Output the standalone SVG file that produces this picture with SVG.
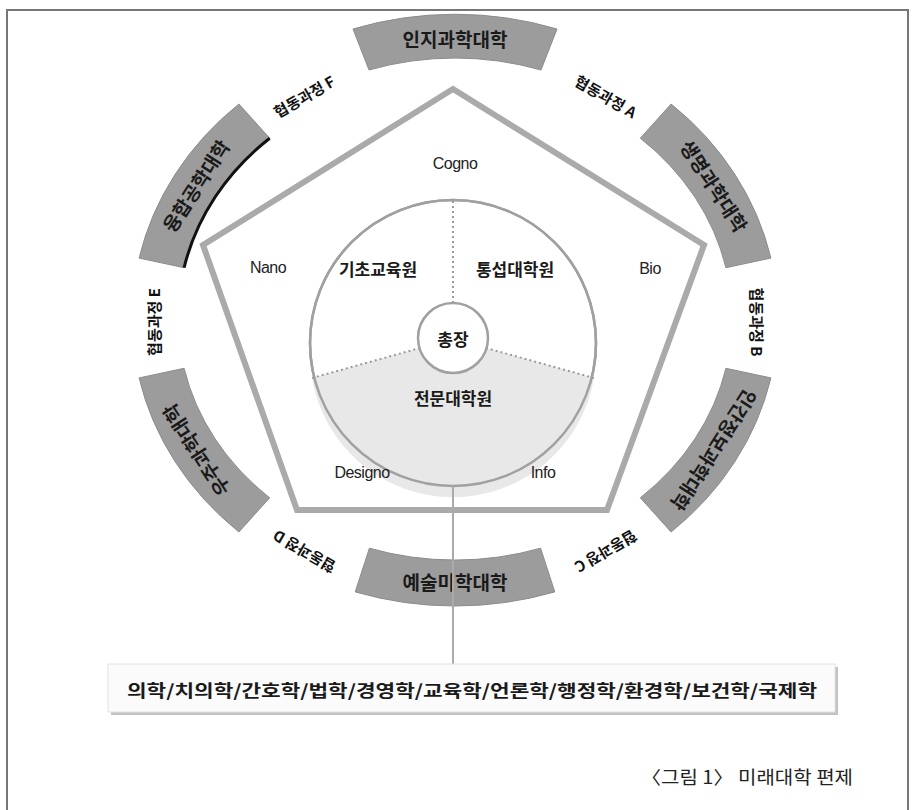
<svg xmlns="http://www.w3.org/2000/svg" width="924" height="810" viewBox="0 0 924 810">
<style>
.band{fill:#9c9c9c;stroke:#8c8c8c;stroke-width:1}
.bt{font-family:"Noto Sans CJK KR","Noto Sans",sans-serif;font-weight:700;font-size:19px;fill:#1a1a1a;text-anchor:middle;dominant-baseline:central}
.lb{font-family:"Noto Sans CJK KR","Noto Sans",sans-serif;font-weight:700;font-size:15px;fill:#111;text-anchor:middle;dominant-baseline:central}
.en{font-family:"Liberation Sans",Arial,sans-serif;font-size:16px;fill:#222;text-anchor:middle;dominant-baseline:central;letter-spacing:-0.5px}
.kr{font-family:"Noto Sans CJK KR","Noto Sans",sans-serif;font-weight:700;font-size:17px;fill:#1a1a1a;text-anchor:middle;dominant-baseline:central}
.dot{stroke:#9a9a9a;stroke-width:2;stroke-dasharray:2 3;fill:none}
</style>
<rect x="0" y="0" width="924" height="810" fill="#fff"/>
<rect id="frame" x="7" y="10" width="901" height="815" fill="none" stroke="#777" stroke-width="2"/>

<g id="college-cognitive">
<path class="band" d="M353,29 A323,288 0 0 1 557,29 L541,70 A277,242 0 0 0 369,70 Z"/>
<text class="bt" x="455" y="38">인지과학대학</text>
</g>
<g id="college-life">
<path class="band" d="M671.1,104.0 A323,288 0 0 1 770.9,258.1 L725.9,267.7 A277,242 0 0 0 640.3,138.2 Z"/>
<text class="bt" transform="translate(714.8,185.5) rotate(57)">생명과학대학</text>
</g>
<g id="college-human-info">
<path class="band" d="M770.9,377.9 A323,288 0 0 1 671.1,532.0 L640.3,497.8 A277,242 0 0 0 725.9,368.3 Z"/>
<text class="bt" transform="translate(714.8,450.5) rotate(123)">인간정보과학대학</text>
</g>
<g id="college-art">
<path class="band" d="M554.8,591.9 A323,288 0 0 1 355.2,591.9 L369.4,548.2 A277,242 0 0 0 540.6,548.2 Z"/>
<text class="bt" x="455" y="581">예술미학대학</text>
</g>
<g id="college-space">
<path class="band" d="M238.9,532.0 A323,288 0 0 1 139.1,377.9 L184.1,368.3 A277,242 0 0 0 269.7,497.8 Z"/>
<text class="bt" transform="translate(195.2,450.5) rotate(-123)">우주과학대학</text>
</g>
<g id="college-convergence">
<path class="band" d="M139.1,258.1 A323,288 0 0 1 238.9,104.0 L269.7,138.2 A277,242 0 0 0 184.1,267.7 Z"/>
<path d="M184.1,267.7 A277,242 0 0 1 269.7,138.2" fill="none" stroke="#111" stroke-width="3"/>
<text class="bt" transform="translate(195.2,185.5) rotate(-57)">융합공학대학</text>
</g>

<g id="coop-A"><text class="lb" transform="translate(606,96) rotate(30)">협동과정 A</text></g>
<g id="coop-B"><text class="lb" transform="translate(757,322) rotate(90)">협동과정 B</text></g>
<g id="coop-C"><text class="lb" transform="translate(606,552) rotate(150)">협동과정 C</text></g>
<g id="coop-D"><text class="lb" transform="translate(304,552) rotate(-150)">협동과정 D</text></g>
<g id="coop-E"><text class="lb" transform="translate(153,322) rotate(-90)">협동과정 E</text></g>
<g id="coop-F"><text class="lb" transform="translate(304,96) rotate(-30)">협동과정 F</text></g>

<g id="pentagon">
<polygon points="453,89 704,245 607,510 297,510 203,245" fill="#fff" stroke="#aaa" stroke-width="6" stroke-linejoin="miter"/>
</g>

<g id="core">
<circle cx="453" cy="343" r="143" fill="#fff" stroke="#a0a0a0" stroke-width="2.5"/>
<path d="M312,378 A143,143 0 0 0 594,378 L486,348 A35,35 0 0 1 420,348 Z" fill="#e8e8e8"/>
<circle cx="453" cy="343" r="143" fill="none" stroke="#a0a0a0" stroke-width="2.5"/>
<line class="dot" x1="453" y1="201" x2="453" y2="303"/>
<line class="dot" x1="420" y1="348" x2="312" y2="378"/>
<line class="dot" x1="486" y1="348" x2="594" y2="378"/>
</g>
<g id="pentagon-labels">
<text class="en" x="455" y="163">Cogno</text>
<text class="en" x="268" y="267">Nano</text>
<text class="en" x="650" y="268">Bio</text>
<text class="en" x="362" y="472">Designo</text>
<text class="en" x="543" y="472">Info</text>
</g>
<g id="president">
<circle cx="453" cy="338" r="35" fill="#fff" stroke="#a0a0a0" stroke-width="2.5"/>
<text class="kr" x="453" y="338">총장</text>
</g>
<g id="basic-edu"><text class="kr" x="378" y="268">기초교육원</text></g>
<g id="consilience"><text class="kr" x="515" y="268">통섭대학원</text></g>
<g id="professional"><text class="kr" x="453" y="397">전문대학원</text></g>

<g id="connectors">
<line x1="453" y1="486" x2="453" y2="665" stroke="#aaa" stroke-width="2"/>
</g>

<g id="fields">
<rect x="111" y="667" width="727" height="48" fill="#9a9a9a" opacity="0.6"/>
<rect x="108" y="664" width="727" height="48" fill="#fbfbfb" stroke="#e2e2e2" stroke-width="1"/>
<text class="kr" x="472" y="689" font-size="20" textLength="690" lengthAdjust="spacingAndGlyphs">의학/치의학/간호학/법학/경영학/교육학/언론학/행정학/환경학/보건학/국제학</text>
</g>

<text x="853" y="776" font-family="'Noto Sans CJK KR','Noto Sans',sans-serif" font-size="18" fill="#222" text-anchor="end" dominant-baseline="central" textLength="212" lengthAdjust="spacingAndGlyphs">〈그림 1〉 미래대학 편제</text>
</svg>
